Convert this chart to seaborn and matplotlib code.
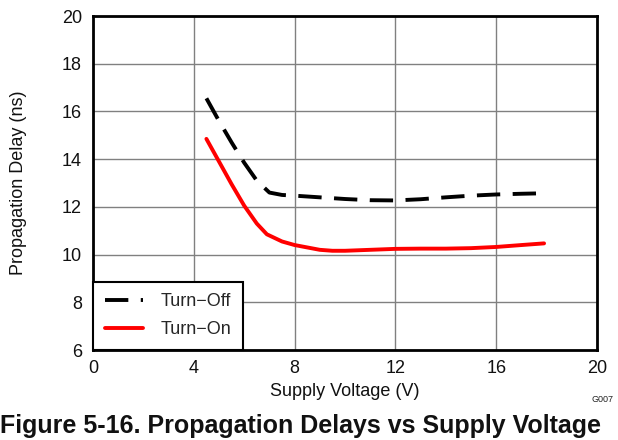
import numpy as np
import pandas as pd
import matplotlib
matplotlib.use("Agg")
import matplotlib.pyplot as plt
import seaborn as sns

# Data
off_v = [4.5, 5.0, 5.5, 6.0, 6.5, 7.0, 7.5, 8.0, 9.0, 10.0, 11.0, 12.0, 13.0, 14.0, 15.0, 16.0, 17.0, 17.9]
off_d = [16.55, 15.6, 14.7, 13.85, 13.1, 12.6, 12.5, 12.47, 12.4, 12.33, 12.28, 12.27, 12.32, 12.4, 12.47, 12.52, 12.55, 12.57]
on_v = [4.5, 5.0, 5.5, 6.0, 6.5, 6.9, 7.5, 8.0, 9.0, 9.5, 10.0, 11.0, 12.0, 13.0, 14.0, 15.0, 16.0, 17.0, 17.9]
on_d = [14.85, 13.9, 12.95, 12.05, 11.3, 10.85, 10.55, 10.4, 10.2, 10.16, 10.16, 10.2, 10.24, 10.25, 10.25, 10.27, 10.32, 10.4, 10.47]
x_ticks = [0, 4, 8, 12, 16, 20]
y_ticks = [6, 8, 10, 12, 14, 16, 18, 20]

OFF = "Turn\u2212Off"
ON = "Turn\u2212On"
df = pd.concat([
    pd.DataFrame({"v": off_v, "d": off_d, "s": OFF}),
    pd.DataFrame({"v": on_v, "d": on_d, "s": ON}),
])

sns.set_theme(style="white")
plt.rcParams["font.family"] = ["Liberation Sans", "DejaVu Sans"]

fig = plt.figure(figsize=(6.18, 4.4), dpi=100)
ax = fig.add_axes([0.1505, 0.2045, 0.8155, 0.7591])

sns.lineplot(data=df, x="v", y="d", hue="s", style="s",
             palette={OFF: "black", ON: "#ff0000"},
             dashes={OFF: (6, 3.2), ON: ""},
             linewidth=2.8, ax=ax, legend=True, zorder=3)

ax.set_xlim(0, 20)
ax.set_ylim(6, 20)
ax.set_xticks(x_ticks)
ax.set_yticks(y_ticks)
ax.grid(True, color="#808080", linewidth=1.0)
ax.set_axisbelow(True)
for sp in ax.spines.values():
    sp.set_color("black")
    sp.set_linewidth(2)
ax.tick_params(axis="both", length=0, labelsize=13, colors="#111111")
ax.tick_params(axis="x", pad=7)
ax.tick_params(axis="y", pad=8)
ax.set_xlabel("Supply Voltage (V)", fontsize=13, color="#111111")
ax.set_ylabel("Propagation Delay (ns)", fontsize=13, color="#111111")
ax.xaxis.set_label_coords(0.5, -0.098)
ax.yaxis.set_label_coords(-0.131, 0.5)

leg = ax.legend(loc="lower left", frameon=True, fancybox=False, fontsize=13,
                borderaxespad=0, handlelength=2.1, handletextpad=1.0,
                borderpad=0.65, labelspacing=0.6)
leg.get_frame().set_edgecolor("black")
leg.get_frame().set_linewidth(1.5)
leg.get_frame().set_alpha(1)

fig.text(0.992, 0.093, "G007", fontsize=6.5, ha="right", va="center", color="#222222")
fig.text(0.0, 0.032, "Figure 5-16. Propagation Delays vs Supply Voltage",
         fontsize=18, fontweight="bold", ha="left", va="center", color="#111111")

fig.savefig("out.png", dpi=100)
